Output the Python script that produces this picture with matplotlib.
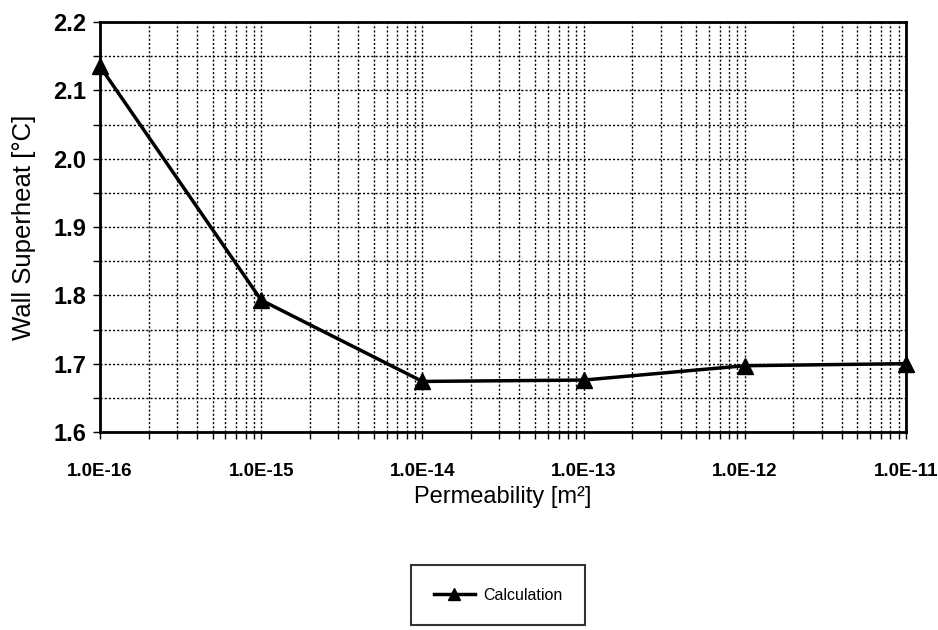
import matplotlib
matplotlib.use("Agg")
import matplotlib.pyplot as plt
from matplotlib.ticker import (FixedLocator, LogLocator, NullFormatter,
                               MultipleLocator, FormatStrFormatter)

plt.rcParams['font.family'] = ['Liberation Sans', 'DejaVu Sans']

permeability = [1e-16, 1e-15, 1e-14, 1e-13, 1e-12, 1e-11]
superheat = [2.135, 1.793, 1.674, 1.676, 1.697, 1.700]
x_tick_labels = ['1.0E-16', '1.0E-15', '1.0E-14', '1.0E-13', '1.0E-12', '1.0E-11']

fig = plt.figure(figsize=(9.38, 6.30), dpi=100)
ax = fig.add_axes([100 / 938, 1 - 432 / 630, 806 / 938, 410 / 630])

ax.set_xscale('log')
ax.set_xlim(1e-16, 1e-11)
ax.set_ylim(1.6, 2.2)

ax.xaxis.set_major_locator(FixedLocator(permeability))
ax.set_xticklabels(x_tick_labels, fontsize=13.5, fontweight='bold')
ax.xaxis.set_minor_locator(LogLocator(base=10, subs=range(2, 10), numticks=20))
ax.xaxis.set_minor_formatter(NullFormatter())
ax.yaxis.set_major_locator(MultipleLocator(0.1))
ax.yaxis.set_minor_locator(MultipleLocator(0.05))
ax.yaxis.set_major_formatter(FormatStrFormatter('%.1f'))
for lbl in ax.get_yticklabels():
    lbl.set_fontsize(17)
    lbl.set_fontweight('bold')

ax.grid(True, which='both', linestyle=(0, (1.5, 1.5)), color='black', linewidth=1.0)
ax.tick_params(which='both', direction='out', length=5, width=1.0, color='black')
ax.tick_params(axis='y', labelsize=17, pad=5)
ax.tick_params(axis='x', labelsize=13.5, pad=17)

for s in ax.spines.values():
    s.set_linewidth(2.0)
    s.set_color('black')

line, = ax.plot(permeability, superheat, color='black', linewidth=2.5,
                marker='^', markersize=11, clip_on=False, zorder=5,
                label='Calculation')

ax.set_xlabel('Permeability [m²]', fontsize=17, labelpad=5)
ax.set_ylabel('Wall Superheat [°C]', fontsize=18.5, labelpad=12)

leg = fig.legend(handles=[line], loc='center', bbox_to_anchor=(498 / 938, 1 - 595 / 630),
                 fontsize=11.5, frameon=True, fancybox=False, edgecolor='black',
                 borderpad=1.4, handlelength=2.6, handletextpad=0.5)
leg.get_frame().set_linewidth(1.5)
for h in leg.legend_handles:
    h.set_markersize(9)
    h.set_linewidth(2.5)

fig.savefig('out.png', dpi=100, facecolor='white')
